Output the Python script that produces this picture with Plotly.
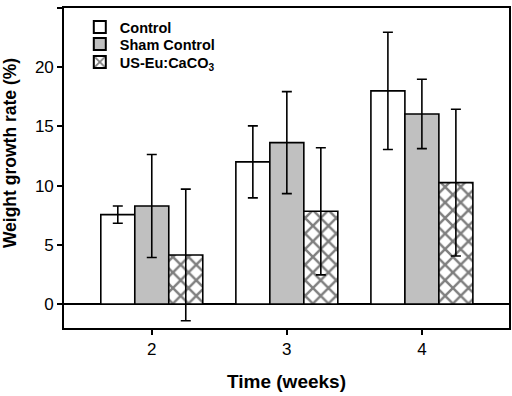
import plotly.graph_objects as go

weeks = [2, 3, 4]
control = [7.55, 12.0, 18.0]
control_err = [0.73, 3.04, 4.95]
sham = [8.28, 13.63, 16.05]
sham_err = [4.35, 4.31, 2.93]
useu = [4.14, 7.83, 10.25]
useu_err = [5.56, 5.37, 6.2]
names = ["Control", "Sham Control", "US-Eu:CaCO<sub>3</sub>"]
yticks = [0, 5, 10, 15, 20, 25]
xtitle = "<b>Time (weeks)</b>"
ytitle = "<b>Weight growth rate (%)</b>"

FONT = "Liberation Sans, Arial, sans-serif"

fig = go.Figure()
common_err = dict(type="data", color="black", thickness=1.6, width=5)
fig.add_trace(go.Bar(x=weeks, y=control, name=names[0], legend="legend",
                     marker=dict(color="white", line=dict(color="black", width=1.6)),
                     error_y=dict(array=control_err, **common_err)))
fig.add_trace(go.Bar(x=weeks, y=sham, name=names[1], legend="legend2",
                     marker=dict(color="#c0c0c0", line=dict(color="black", width=1.6)),
                     error_y=dict(array=sham_err, **common_err)))
fig.add_trace(go.Bar(x=weeks, y=useu, name=names[2], legend="legend3",
                     marker=dict(color="white", line=dict(color="black", width=1.6),
                                 pattern=dict(shape="x", size=11, solidity=0.4,
                                              fgcolor="black", bgcolor="white")),
                     error_y=dict(array=useu_err, **common_err)))

leg_common = dict(x=0.0355, xanchor="left", yanchor="middle",
                  bgcolor="rgba(0,0,0,0)",
                  font=dict(size=14.5, family=FONT, weight="bold", color="black"),
                  itemsizing="constant")

fig.update_layout(
    width=512, height=396,
    margin=dict(l=64, r=3, t=8, b=68, autoexpand=False),
    paper_bgcolor="white", plot_bgcolor="white",
    barmode="group", bargap=0.245, bargroupgap=0,
    font=dict(family=FONT, color="black", size=17),
    showlegend=True,
    legend=dict(y=0.9406, **leg_common),
    legend2=dict(y=0.8875, **leg_common),
    legend3=dict(y=0.831, **leg_common),
    xaxis=dict(range=[1.35, 4.645], tickvals=weeks, ticktext=[str(w) for w in weeks],
               showline=True, linecolor="black", linewidth=1.6, mirror=True,
               ticks="outside", ticklen=5, tickwidth=1.5, tickcolor="black",
               showgrid=False, zeroline=False, automargin=False),
    yaxis=dict(range=[-2.03, 25], tickvals=yticks,
               showline=True, linecolor="black", linewidth=1.6, mirror=True,
               ticks="outside", ticklen=5, tickwidth=1.5, tickcolor="black",
               showgrid=False, zeroline=True, zerolinecolor="black", zerolinewidth=1.6,
               automargin=False),
    annotations=[
        dict(text=xtitle, xref="paper", yref="paper", x=0.501, y=-0.166,
             xanchor="center", yanchor="middle", showarrow=False,
             font=dict(size=19, family=FONT, color="black")),
        dict(text=ytitle, xref="paper", yref="paper", x=-0.121, y=0.547,
             xanchor="center", yanchor="middle", showarrow=False, textangle=-90,
             font=dict(size=17.5, family=FONT, color="black")),
    ],
)

fig.write_html("out.html", config={"displayModeBar": False},
               post_script="document.body.style.margin='0';")
